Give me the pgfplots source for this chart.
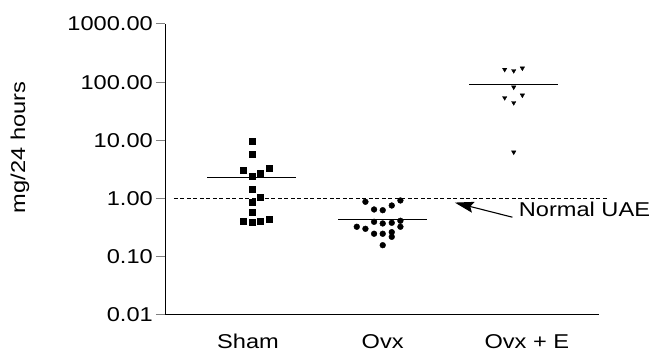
\documentclass[border=0pt]{standalone}
\usepackage{fontspec}
\setmainfont{Liberation Sans}[FakeStretch=1.18]
\usepackage{pgfplots}
\pgfplotsset{compat=1.18}
\usetikzlibrary{arrows.meta}
\begin{document}
\begin{tikzpicture}[font=\fontsize{20bp}{22bp}\selectfont]
\useasboundingbox (0bp,0bp) rectangle (653bp,351bp);
\begin{axis}[
  at={(165bp,36.7bp)}, anchor=south west,
  scale only axis, width=434bp, height=290.3bp,
  ymode=log, ymin=0.01, ymax=1000,
  xmin=-0.662, xmax=2.651,
  axis x line*=bottom, axis y line*=left,
  axis line style={line width=1bp},
  ytick={0.01,0.1,1,10,100,1000},
  yticklabels={0.01,0.10,1.00,10.00,100.00,1000.00},
  yminorticks=false,
  tick align=outside, major tick length=9bp,
  ytick style={line width=1bp},
  xtick={-0.028,1,2.1},
  xticklabels={Sham,Ovx,Ovx + E},
  xtick style={draw=none},
  yticklabel style={anchor=base east, inner sep=0pt, xshift=-3bp, yshift=-7bp},
  xticklabel style={anchor=base, inner sep=0pt, yshift=-24.7bp},
  clip=false,
]
% Sham
\addplot[only marks, mark=square*, mark size=3bp, mark options={fill=black, draw=black}] coordinates {
(0,9.6) (0,5.66) (-0.066,3.03) (0.133,3.34) (0.066,2.66) (0,2.39) (0,1.41) (0.066,1.03)
(0,0.867) (0,0.583) (-0.066,0.402) (0,0.392) (0.066,0.397) (0.133,0.442)
};
% Ovx
\addplot[only marks, mark=*, mark size=2.9bp, mark options={fill=black, draw=black}] coordinates {
(0.868,0.867) (1.135,0.913) (0.934,0.639) (1,0.621) (1.069,0.748) (0.934,0.392) (1,0.367)
(1.069,0.377) (1.135,0.408) (0.802,0.322) (0.868,0.297) (1.135,0.322) (0.934,0.244)
(1,0.244) (1.069,0.260) (1.069,0.216) (1,0.155)
};
% Ovx + E
\addplot[only marks, mark=triangle*, mark size=2.5bp, mark options={fill=black, draw=black, rotate=180}] coordinates {
(1.931,164.7) (2,156.4) (2.066,173.4) (2,81.6) (1.931,53.6) (2.066,59.4) (2,44.0) (2,6.2)
};
% mean lines
\addplot[black, line width=1bp] coordinates {(-0.34,2.30) (0.34,2.30)};
\addplot[black, line width=1bp] coordinates {(0.66,0.430) (1.34,0.430)};
\addplot[black, line width=1bp] coordinates {(1.66,91.9) (2.34,91.9)};
% normal UAE reference
\addplot[black, line width=0.9bp, dash pattern=on 4bp off 2.5bp] coordinates {(-0.595,1) (2.725,1)};
\draw[-{Stealth[length=19bp,width=11bp,inset=3bp]}, line width=1.1bp] (axis cs:1.99,0.47) -- (axis cs:1.55,0.84);
\node[anchor=base west, inner sep=0pt] at (axis cs:2.038,0.478) {Normal UAE};
\end{axis}
\node[rotate=90] at (20bp,203.5bp) {mg/24 hours};
\end{tikzpicture}
\end{document}
